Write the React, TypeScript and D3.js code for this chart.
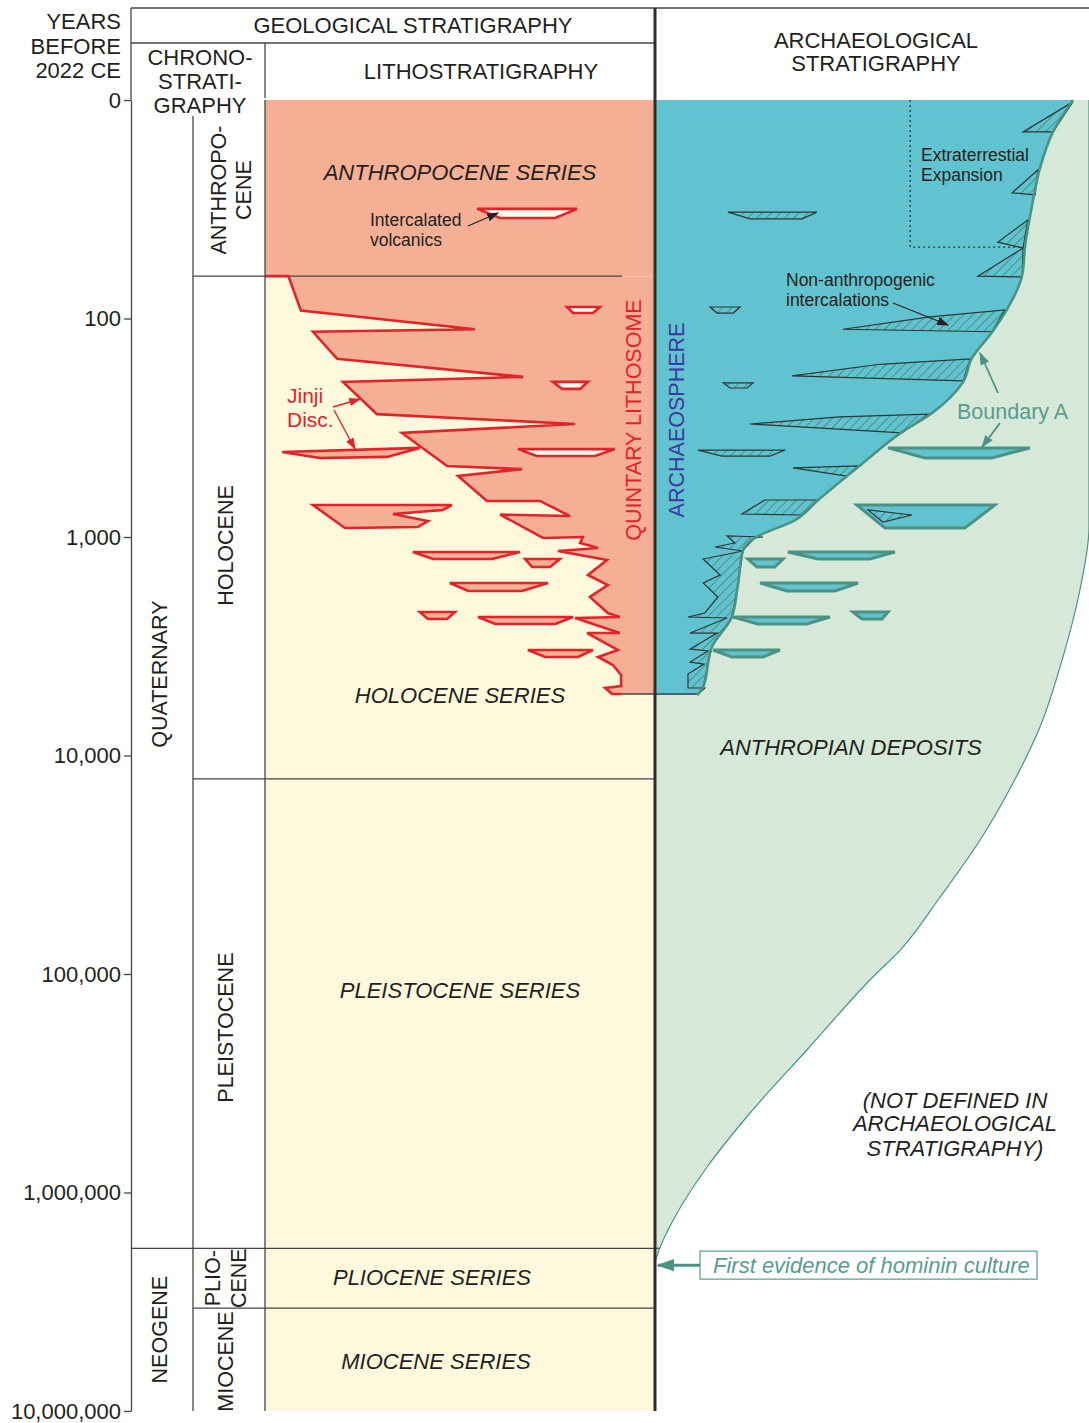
import React, { useEffect, useRef } from "react";
import * as d3 from "d3";

// [share of column width in %, years before 2022 CE]
type Pt = [number, number];
type Lens = { top: number; bottom: number; x0: number; x1: number; b0: number; b1: number };

const FONT = "'Liberation Sans', Arial, Helvetica, sans-serif";
const INK = "#231f20";
const SALMON = "#f4af94";
const CREAM = "#fef9dc";
const BLUE = "#62c3d0";
const GREEN = "#d6e8d8";
const TEAL = "#4a9384";
const RED = "#e3232a";

const yearTicks = [0, 100, 1000, 10000, 100000, 1000000, 10000000];

const periods = [
  { name: ["QUATERNARY"], top: 0, base: 1800000 },
  { name: ["NEOGENE"], top: 1800000, base: 10000000 },
];
const epochs = [
  { name: ["ANTHROPO-", "CENE"], top: 0, base: 64 },
  { name: ["HOLOCENE"], top: 64, base: 12800 },
  { name: ["PLEISTOCENE"], top: 12800, base: 1800000 },
  { name: ["PLIO-", "CENE"], top: 1800000, base: 3380000 },
  { name: ["MIOCENE"], top: 3380000, base: 10000000 },
];

// lithostratigraphy: front of the quintary lithosome over the holocene series
const lithosomeFront: Pt[] = [
  [0, 64], [6, 64], [9.2, 92], [53.8, 112], [12.3, 115], [18.5, 153], [66.2, 185], [20, 195],
  [28.7, 274], [79.5, 304], [35.1, 334], [46.7, 473], [65.9, 489], [49.5, 526], [56.9, 684],
  [70.5, 684], [78.2, 802], [60.3, 790], [71.3, 1010], [81.5, 1000], [80.8, 1065], [85.4, 1123],
  [75.1, 1159], [87.7, 1274], [82.8, 1493], [87.9, 1659], [83.3, 1882], [87.9, 2227], [91, 2323],
  [79.5, 2348], [91, 2751], [82.6, 2751], [90.5, 3290], [85.4, 3541], [89.2, 3853], [91.3, 4281],
  [91.3, 4807], [87.2, 4910], [89, 5231], [91.5, 5231],
];
const creamLenses: Lens[] = [
  { top: 31.5, bottom: 34.7, x0: 54.4, x1: 80, b0: 60.3, b1: 74.4 },
  { top: 88.6, bottom: 94.4, x0: 77.4, x1: 85.9, b0: 79, b1: 84.1 },
  { top: 195, bottom: 210, x0: 73.8, x1: 82.8, b0: 76.2, b1: 80.8 },
  { top: 396, bottom: 426, x0: 64.9, x1: 89.7, b0: 69.7, b1: 84.6 },
];
const salmonLenses: Lens[] = [
  { top: 1171, bottom: 1261, x0: 37.9, x1: 65.4, b0: 43.1, b1: 58.2 },
  { top: 1261, bottom: 1372, x0: 66.7, x1: 75.6, b0: 68.5, b1: 73.1 },
  { top: 1624, bottom: 1767, x0: 47.4, x1: 72.6, b0: 52.1, b1: 65.9 },
  { top: 2204, bottom: 2373, x0: 39.7, x1: 48.7, b0: 41.8, b1: 46.7 },
  { top: 2323, bottom: 2502, x0: 54.6, x1: 79, b0: 59, b1: 74.4 },
  { top: 3290, bottom: 3541, x0: 67.4, x1: 84.1, b0: 71.8, b1: 80.3 },
];
const jinjiLens: Pt[] = [[4.4, 408], [39.7, 391], [31.3, 430], [14.1, 435]];
const tongueLens: Pt[] = [[12.3, 714], [47.9, 714], [45.6, 752], [32.8, 785], [41.8, 845], [39.2, 900], [20.5, 910]];

// archaeological stratigraphy
const boundaryA: Pt[] = [
  [96.3, 0], [91.7, 14], [88.7, 20.5], [86.9, 30.2], [85.3, 46.1], [84.6, 63.2], [81.3, 89.5],
  [77.6, 116], [73, 152], [71, 195], [63.8, 271], [56.9, 331], [46.8, 478], [37.6, 677],
  [32.3, 836], [23, 1010], [20.3, 1147], [19.1, 1659], [17.7, 2323], [13.1, 3186], [11.1, 4858], [9.7, 5287],
];
const anthropianLimit: Pt[] = [
  [100, 0], [100, 900], [97.9, 1748], [94, 3541], [88.7, 7407], [82.5, 13360], [74.9, 24360],
  [65.7, 44430], [56.5, 77680], [50.2, 103200], [35, 222700], [21.9, 432700], [12, 764300],
  [5.1, 1241000], [1.2, 1776000], [0, 2080000],
];
const intercalations: Pt[][] = [
  [[96.3, 10.2], [84.8, 14], [91.7, 14]],
  [[88.2, 20.9], [82.3, 26.6], [87.6, 27.2]],
  [[85.9, 35.4], [79, 44.7], [84.8, 47.6]],
  [[84.8, 47.6], [74.4, 64], [84.6, 64.6]],
  [[43.3, 112], [63.4, 98.4], [80.6, 91.4], [77.6, 115]],
  [[31.6, 183], [51.8, 162], [72.6, 153], [71, 193]],
  [[21.9, 304], [42.6, 282], [62.9, 274], [56.9, 334]],
  [[31.8, 483], [46.8, 473], [44.2, 526]],
  [[20, 785], [25.3, 677], [37.6, 677], [33.9, 793]],
];
const deepBand: Pt[] = [
  [24.9, 1000], [16.6, 989], [18.4, 1065], [13.8, 1111], [20.3, 1159], [11.1, 1261], [15, 1493],
  [11.1, 1624], [14.5, 1882], [11.5, 2227], [7.6, 2323], [16.6, 2348], [8.1, 2751], [14.3, 2751],
  [8.1, 3256], [12.2, 3325], [8.1, 3735], [11.3, 3814], [7.6, 4236], [7.6, 4910], [11.5, 4910],
  [9.7, 5287], [11.1, 4858], [13.1, 3186], [17.7, 2323], [19.1, 1659], [20.3, 1147], [23, 1010],
];
const hatchedLenses: Lens[] = [
  { top: 32.6, bottom: 35, x0: 16.8, x1: 37.3, b0: 21.9, b1: 33.9 },
  { top: 88.6, bottom: 94.4, x0: 12.7, x1: 19.6, b0: 14.3, b1: 18 },
  { top: 197, bottom: 208, x0: 15.7, x1: 22.6, b0: 17.3, b1: 21.2 },
  { top: 400, bottom: 426, x0: 9.9, x1: 30, b0: 15.4, b1: 26.5 },
];
const tealLenses: Lens[] = [
  { top: 391, bottom: 435, x0: 53.7, x1: 86.4, b0: 62.2, b1: 77.6 },
  { top: 714, bottom: 910, x0: 46.5, x1: 78.3, b0: 53, b1: 71.4 },
  { top: 1171, bottom: 1261, x0: 30.6, x1: 55.3, b0: 37.6, b1: 49.5 },
  { top: 1261, bottom: 1372, x0: 21.4, x1: 29.5, b0: 23.5, b1: 27.6 },
  { top: 1624, bottom: 1767, x0: 24.2, x1: 46.8, b0: 30.4, b1: 41.5 },
  { top: 2204, bottom: 2373, x0: 45.6, x1: 53.7, b0: 47.7, b1: 52.3 },
  { top: 2323, bottom: 2502, x0: 18, x1: 40.3, b0: 23.7, b1: 35 },
  { top: 3290, bottom: 3541, x0: 13.4, x1: 28.8, b0: 17.7, b1: 24.9 },
];
const lensWedge: Pt[] = [[49.1, 752], [59.2, 793], [52.5, 854]];
const expansionBox: Pt[] = [[58.8, 0], [58.8, 47.1], [84.6, 47.1]];
const hominins = 2150000;

const lensPts = (l: Lens): Pt[] => [[l.x0, l.top], [l.x1, l.top], [l.b1, l.bottom], [l.b0, l.bottom]];

export default function App() {
  const axisRef = useRef<SVGGElement>(null);

  const y = d3.scaleLog().domain([10, 1e7]).range([100, 1411]).clamp(true);
  const xL = d3.scaleLinear().domain([0, 100]).range([265, 655]);
  const xA = d3.scaleLinear().domain([0, 100]).range([655, 1089]);

  const line = (xs: d3.ScaleLinear<number, number>, pts: Pt[], closed = true, curve: d3.CurveFactory = d3.curveLinear) => {
    const s = d3.line<Pt>().x(d => xs(d[0])).y(d => y(d[1])).curve(curve)(pts) || "";
    return closed ? s + "Z" : s;
  };

  useEffect(() => {
    const g = d3.select(axisRef.current);
    g.selectAll("*").remove();
    g.call(d3.axisLeft(y).tickValues(yearTicks).tickFormat(d3.format(",")).tickSize(7).tickSizeOuter(0).tickPadding(3) as any);
    g.select(".domain").attr("stroke", "#444").attr("stroke-width", 1.3);
    g.selectAll(".tick line").attr("stroke", "#444").attr("stroke-width", 1.3);
    g.selectAll(".tick text").attr("font-size", 22).attr("fill", INK).attr("font-family", FONT);
  }, []);

  const boundaryPath = line(xA, boundaryA, false, d3.curveMonotoneY);
  const bluePath = boundaryPath + `L${xA(0)},${y(5287)}L${xA(0)},${y(0)}Z`;
  const limitPath = line(xA, anthropianLimit, false, d3.curveMonotoneY);
  const greenPath = limitPath + `L${xA(0)},${y(0)}Z`;
  const epochShift = [2, 18, 14, 0, 2];

  const vText = (x: number, cy: number, s: string, size = 21, fill = INK, key?: string) => (
    <text key={key} transform={`translate(${x},${cy}) rotate(-90)`} textAnchor="middle" dominantBaseline="central" fontSize={size} fill={fill}>{s}</text>
  );

  return (
    <svg width={1089} height={1423} style={{ position: "absolute", left: 0, top: 0, background: "#fff" }} fontFamily={FONT}>
      <defs>
        <pattern id="hatch" patternUnits="userSpaceOnUse" width={6.5} height={6.5} patternTransform="rotate(45)">
          <rect width={6.5} height={6.5} fill={BLUE} />
          <line x1={0} y1={0} x2={0} y2={6.5} stroke="#3d8274" strokeWidth={1.5} />
        </pattern>
        {[["arrBlack", "#222", 12], ["arrRed", RED, 12], ["arrTeal", TEAL, 13], ["arrBig", TEAL, 18]].map(([id, c, s]) => (
          <marker key={id as string} id={id as string} viewBox="0 0 10 10" refX={9} refY={5} markerUnits="userSpaceOnUse"
            markerWidth={s as number} markerHeight={s as number} orient="auto">
            <path d="M0,1.5L10,5L0,8.5Z" fill={c as string} />
          </marker>
        ))}
      </defs>

      {/* lithostratigraphy */}
      <rect x={xL(0)} y={y(0)} width={xL(100) - xL(0)} height={y(1e7) - y(0)} fill={CREAM} />
      <rect x={xL(0)} y={y(0)} width={xL(100) - xL(0)} height={y(64) - y(0)} fill={SALMON} />
      <path d={line(xL, [...lithosomeFront, [100, 5231], [100, 64]])} fill={SALMON} />

      {/* archaeological stratigraphy */}
      <path d={greenPath} fill={GREEN} />
      <path d={limitPath} fill="none" stroke={TEAL} strokeWidth={1.2} />
      <path d={bluePath} fill={BLUE} />

      {/* chronostratigraphic boundaries */}
      <g stroke="#444" strokeWidth={1.3}>
        <line x1={193} x2={xL(91.5)} y1={y(64)} y2={y(64)} />
        <line x1={193} x2={xL(100)} y1={y(12800)} y2={y(12800)} />
        <line x1={131} x2={xL(100)} y1={y(1800000)} y2={y(1800000)} />
        <line x1={193} x2={xL(100)} y1={y(3380000)} y2={y(3380000)} />
        <line x1={xL(91.5)} x2={xA(9.7)} y1={y(5231)} y2={y(5231)} />
        <line x1={xA(0)} x2={xA(1)} y1={y(1800000)} y2={y(1800000)} />
      </g>

      {creamLenses.map((l, i) => (
        <path key={"c" + i} d={line(xL, lensPts(l))} fill="#fffdf2" stroke={RED} strokeWidth={2.6} />
      ))}
      {salmonLenses.map((l, i) => (
        <path key={"s" + i} d={line(xL, lensPts(l))} fill={SALMON} stroke={RED} strokeWidth={2.6} />
      ))}
      <path d={line(xL, jinjiLens)} fill={SALMON} stroke={RED} strokeWidth={2.6} />
      <path d={line(xL, tongueLens)} fill={SALMON} stroke={RED} strokeWidth={2.6} />
      <path d={line(xL, lithosomeFront, false)} fill="none" stroke={RED} strokeWidth={2.6} />

      {/* hatched non-anthropogenic intercalations */}
      <path d={line(xA, deepBand)} fill="url(#hatch)" stroke="#2b3535" strokeWidth={1.2} />
      {intercalations.map((w, i) => (
        <path key={"w" + i} d={line(xA, w)} fill="url(#hatch)" stroke="#2b3535" strokeWidth={1.2} />
      ))}
      {hatchedLenses.map((l, i) => (
        <path key={"h" + i} d={line(xA, lensPts(l))} fill="url(#hatch)" stroke="#2b3535" strokeWidth={1.2} />
      ))}
      <path d={boundaryPath} fill="none" stroke={TEAL} strokeWidth={2.6} />
      {tealLenses.map((l, i) => (
        <path key={"t" + i} d={line(xA, lensPts(l))} fill={BLUE} stroke={TEAL} strokeWidth={3} />
      ))}
      <path d={line(xA, lensWedge)} fill="url(#hatch)" stroke="#2b3535" strokeWidth={1.2} />
      <path d={line(xA, expansionBox, false)} fill="none" stroke="#333" strokeWidth={1.3} strokeDasharray="2,3" />

      {/* frame */}
      <g stroke="#444" strokeWidth={1.3}>
        <line x1={131} x2={1089} y1={8} y2={8} />
        <line x1={131} x2={xL(100)} y1={43} y2={43} />
        <line x1={131} x2={131} y1={8} y2={100} />
        <line x1={265} x2={265} y1={43} y2={98} />
        <line x1={265} x2={265} y1={y(0)} y2={y(1e7)} />
        <line x1={193} x2={193} y1={116} y2={y(1e7)} />
      </g>
      <line x1={655} x2={655} y1={8} y2={y(1e7)} stroke="#2e2e2e" strokeWidth={3} />
      <g ref={axisRef} transform="translate(131,0)" />

      {/* header */}
      <g fontSize={22} fill={INK}>
        <text x={121} y={21} textAnchor="end" dominantBaseline="central">YEARS</text>
        <text x={121} y={46} textAnchor="end" dominantBaseline="central">BEFORE</text>
        <text x={121} y={70} textAnchor="end" dominantBaseline="central">2022 CE</text>
        <text x={413} y={25} textAnchor="middle" dominantBaseline="central">GEOLOGICAL STRATIGRAPHY</text>
        <text x={200} y={57} textAnchor="middle" dominantBaseline="central">CHRONO-</text>
        <text x={200} y={81} textAnchor="middle" dominantBaseline="central">STRATI-</text>
        <text x={200} y={105} textAnchor="middle" dominantBaseline="central">GRAPHY</text>
        <text x={481} y={71} textAnchor="middle" dominantBaseline="central">LITHOSTRATIGRAPHY</text>
        <text x={876} y={40} textAnchor="middle" dominantBaseline="central">ARCHAEOLOGICAL</text>
        <text x={876} y={63} textAnchor="middle" dominantBaseline="central">STRATIGRAPHY</text>
      </g>

      {/* chronostratigraphic names */}
      {periods.map(p => vText(160, (y(p.top) + y(p.base)) / 2, p.name[0], 21.5, INK, p.name[0]))}
      {epochs.map((e, i) => {
        const cy = (y(e.top) + y(e.base)) / 2 + epochShift[i];
        return e.name.length === 1
          ? vText(226, cy, e.name[0], 21.5, INK, e.name[0])
          : <g key={e.name[0]}>{vText(i === 0 ? 219 : 213, cy, e.name[0], 21.5)}{vText(i === 0 ? 244 : 239, cy, e.name[1], 21.5)}</g>;
      })}

      {/* series names */}
      <g fontSize={22} fill={INK} fontStyle="italic" textAnchor="middle" dominantBaseline="central">
        <text x={460} y={172}>ANTHROPOCENE SERIES</text>
        <text x={460} y={695}>HOLOCENE SERIES</text>
        <text x={460} y={990}>PLEISTOCENE SERIES</text>
        <text x={432} y={1277}>PLIOCENE SERIES</text>
        <text x={436} y={1361}>MIOCENE SERIES</text>
        <text x={851} y={747}>ANTHROPIAN DEPOSITS</text>
        <text x={955} y={1100}>(NOT DEFINED IN</text>
        <text x={955} y={1123}>ARCHAEOLOGICAL</text>
        <text x={955} y={1148}>STRATIGRAPHY)</text>
      </g>
      {vText(634, 420, "QUINTARY LITHOSOME", 21.5, RED)}
      {vText(677, 420, "ARCHAEOSPHERE", 21.5, "#3b3a9e")}

      {/* annotations */}
      <g fontSize={17.5} fill={INK} dominantBaseline="central">
        <text x={370} y={220}>Intercalated</text>
        <text x={370} y={240}>volcanics</text>
        <text x={921} y={155}>Extraterrestial</text>
        <text x={921} y={175}>Expansion</text>
        <text x={786} y={280}>Non-anthropogenic</text>
        <text x={786} y={300}>intercalations</text>
      </g>
      <g fontSize={21} fill={RED} dominantBaseline="central">
        <text x={287} y={395}>Jinji</text>
        <text x={287} y={419}>Disc.</text>
      </g>
      <text x={957} y={412} fontSize={21.5} fill="#5a9c8e" dominantBaseline="central">Boundary A</text>

      <line x1={468} y1={226} x2={498} y2={213} stroke="#222" strokeWidth={1.3} markerEnd="url(#arrBlack)" />
      <line x1={893} y1={303} x2={948} y2={325} stroke="#222" strokeWidth={1.3} markerEnd="url(#arrBlack)" />
      <line x1={333} y1={407} x2={360} y2={399} stroke={RED} strokeWidth={1.4} markerEnd="url(#arrRed)" />
      <line x1={334} y1={410} x2={355} y2={449} stroke={RED} strokeWidth={1.4} markerEnd="url(#arrRed)" />
      <line x1={998} y1={393} x2={980} y2={353} stroke={TEAL} strokeWidth={1.8} markerEnd="url(#arrTeal)" />
      <line x1={1000} y1={423} x2={982} y2={447} stroke={TEAL} strokeWidth={1.8} markerEnd="url(#arrTeal)" />

      <rect x={700} y={y(hominins) - 14} width={337} height={28} fill="#fff" stroke="#5a9c8e" strokeWidth={1.2} />
      <text x={713} y={y(hominins)} fontSize={22} fontStyle="italic" fill="#5a9c8e" dominantBaseline="central">First evidence of hominin culture</text>
      <line x1={700} y1={y(hominins)} x2={xA(0) + 3} y2={y(hominins)} stroke={TEAL} strokeWidth={3} markerEnd="url(#arrBig)" />
    </svg>
  );
}
